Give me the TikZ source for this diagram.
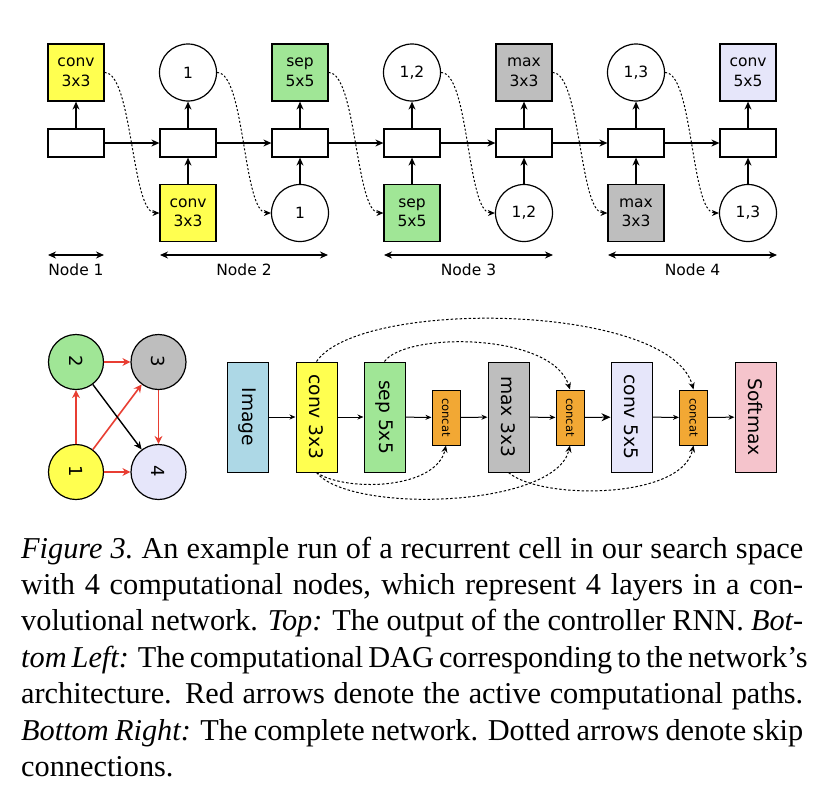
\documentclass[tikz,border=0pt]{standalone}
\usepackage{fontspec}
\usepackage{graphicx}
\setmainfont{Liberation Serif}
\newfontfamily\dejavu{DejaVu Sans}
\usetikzlibrary{arrows.meta}
\definecolor{cyel}{RGB}{255,255,80}
\definecolor{cgreen}{RGB}{160,230,150}
\definecolor{cgray}{RGB}{190,190,190}
\definecolor{clav}{RGB}{230,230,250}
\definecolor{cblue}{RGB}{173,216,230}
\definecolor{corange}{RGB}{242,168,52}
\definecolor{cpink}{RGB}{245,196,204}
\definecolor{cred}{RGB}{232,62,50}
\newcommand{\capline}[1]{\makebox[782pt][s]{#1}\par}
\tikzset{
  lbl/.style={font=\dejavu\fontsize{15.5}{19.5}\selectfont},
  opbox/.style={draw, line width=1.2pt, minimum width=56pt, minimum height=57pt, inner sep=0pt, align=center, lbl},
  rnncell/.style={draw, line width=1.2pt, minimum width=56pt, minimum height=28pt, inner sep=0pt},
  circ/.style={circle, draw, line width=1.2pt, minimum size=57pt, inner sep=0pt, lbl},
  arr/.style={-{Stealth[length=8pt,width=7pt]}, line width=1.2pt},
  dblarr/.style={{Stealth[length=8pt,width=7pt]}-{Stealth[length=8pt,width=7pt]}, line width=1.2pt},
  skipline/.style={line width=1pt, dash pattern=on 2pt off 2pt, -{Stealth[length=7pt,width=6pt]}},
  dag/.style={circle, draw, line width=1.2pt, minimum size=55pt, inner sep=0pt, font=\dejavu\fontsize{18}{20}\selectfont},
  redarr/.style={cred, line width=1.6pt, -{Stealth[length=8pt,width=8pt]}},
  blkarr/.style={black, line width=1.4pt, -{Stealth[length=8pt,width=7pt]}},
  netbox/.style={draw, line width=1pt, minimum width=41pt, minimum height=110pt, inner sep=0pt, font=\dejavu\fontsize{18.7}{20}\selectfont},
  catbox/.style={draw, line width=1pt, fill=corange, minimum width=28pt, minimum height=55pt, inner sep=0pt, font=\dejavu\fontsize{11.5}{12}\selectfont},
  netarr/.style={line width=1pt, -{Stealth[length=6pt,width=5pt]}},
  netskip/.style={line width=1pt, dash pattern=on 2.5pt off 2pt, -{Stealth[length=7pt,width=6pt]}}
}
\begin{document}
\begin{tikzpicture}[x=1pt,y=-1pt]
\fill[white] (0,0) rectangle (830,804);
\useasboundingbox (0,0) rectangle (830,804);

% ---------- top: controller RNN ----------
\foreach \i/\x in {1/76,2/188,3/300,4/412,5/524,6/636,7/748}
  \node[rnncell] (r\i) at (\x,143) {};

\node[opbox, fill=cyel] (t1) at (76,72.5) {conv\\3x3};
\node[circ] (t2) at (188,72.5) {1};
\node[opbox, fill=cgreen] (t3) at (300,72.5) {sep\\5x5};
\node[circ] (t4) at (412,72.5) {1,2};
\node[opbox, fill=cgray] (t5) at (524,72.5) {max\\3x3};
\node[circ] (t6) at (636,72.5) {1,3};
\node[opbox, fill=clav] (t7) at (748,72.5) {conv\\5x5};

\node[opbox, fill=cyel] (b2) at (188,213) {conv\\3x3};
\node[circ] (b3) at (300,213) {1};
\node[opbox, fill=cgreen] (b4) at (412,213) {sep\\5x5};
\node[circ] (b5) at (524,213) {1,2};
\node[opbox, fill=cgray] (b6) at (636,213) {max\\3x3};
\node[circ] (b7) at (748,213) {1,3};

\foreach \i in {1,...,7} \draw[arr] (r\i) -- (t\i);
\foreach \i in {2,...,7} \draw[arr] (b\i) -- (r\i);
\foreach \i/\j in {1/2,2/3,3/4,4/5,5/6,6/7} {
  \draw[arr] (r\i) -- (r\j);
  \draw[skipline] (t\i.east) .. controls +(28,0) and +(-28,0) .. (b\j.west);
}

% node spans
\coordinate (n1a) at (48,255); \coordinate (n1b) at (104,255);
\coordinate (n2a) at (160,255); \coordinate (n2b) at (328,255);
\coordinate (n3a) at (384,255); \coordinate (n3b) at (553,255);
\coordinate (n4a) at (608,255); \coordinate (n4b) at (777,255);
\draw[dblarr] (n1a) -- (n1b);
\draw[dblarr] (n2a) -- (n2b);
\draw[dblarr] (n3a) -- (n3b);
\draw[dblarr] (n4a) -- (n4b);
\node[lbl] (l1) at (76,269.5) {Node 1};
\node[lbl] (l2) at (244,269.5) {Node 2};
\node[lbl] (l3) at (468.5,269.5) {Node 3};
\node[lbl] (l4) at (692.5,269.5) {Node 4};

% ---------- bottom left: DAG ----------
\node[dag, fill=cgreen] (c2) at (76,362) {\rotatebox[origin=c]{-90}{2}};
\node[dag, fill=cgray] (c3) at (158.5,362) {\rotatebox[origin=c]{-90}{3}};
\node[dag, fill=cyel] (c1) at (76,472) {\rotatebox[origin=c]{-90}{1}};
\node[dag, fill=clav] (c4) at (158.5,472) {\rotatebox[origin=c]{-90}{4}};
\draw[redarr] (c1) -- (c2);
\draw[redarr] (c2) -- (c3);
\draw[redarr] (c1) -- (c3);
\draw[redarr] (c1) -- (c4);
\draw[redarr] (c3) -- (c4);
\draw[blkarr] (c2) -- (c4);

% ---------- bottom right: network ----------
\node[netbox, fill=cblue] (img) at (247.5,417) {\rotatebox[origin=c]{-90}{Image}};
\node[netbox, fill=cyel] (nconv) at (316.5,417) {\rotatebox[origin=c]{-90}{conv 3x3}};
\node[netbox, fill=cgreen] (nsep) at (384.5,417) {\rotatebox[origin=c]{-90}{sep 5x5}};
\node[catbox] (cat1) at (446,417.5) {\rotatebox[origin=c]{-90}{concat}};
\node[netbox, fill=cgray] (nmax) at (508.5,417) {\rotatebox[origin=c]{-90}{max 3x3}};
\node[catbox] (cat2) at (570,417.5) {\rotatebox[origin=c]{-90}{concat}};
\node[netbox, fill=clav] (nconv5) at (631.5,417) {\rotatebox[origin=c]{-90}{conv 5x5}};
\node[catbox] (cat3) at (693.5,417.5) {\rotatebox[origin=c]{-90}{concat}};
\node[netbox, fill=cpink] (soft) at (755.5,417) {\rotatebox[origin=c]{-90}{Softmax}};

\draw[netarr] (img) -- (nconv);
\draw[netarr] (nconv) -- (nsep);
\draw[netarr] (nsep) -- (cat1);
\draw[netarr] (cat1) -- (nmax);
\draw[netarr] (nmax) -- (cat2);
\draw[line width=1pt, -{Stealth[length=9pt,width=8pt]}] (cat2) -- (nconv5);
\draw[netarr] (nconv5) -- (cat3);
\draw[netarr] (cat3) -- (soft);

\draw[netskip] (nconv.north) .. controls (360,298) and (670,303) .. (cat3.north);
\draw[netskip] (nsep.north) .. controls (405,332) and (552,332) .. (cat2.north);
\draw[netskip] (nconv.south) .. controls (345,492) and (436,490) .. (cat1.south);
\draw[netskip] (nconv.south) .. controls (350,514) and (556,508) .. (cat2.south);
\draw[netskip] (nmax.south) .. controls (540,500) and (682,500) .. (cat3.south);

% ---------- caption ----------
\node[anchor=base west, inner sep=0pt] (cap) at (21,558) {\parbox[t]{782pt}{\fontsize{30.3}{36.4}\selectfont\parindent=0pt
\capline{\textit{Figure 3.}\ An example run of a recurrent cell in our search space}
\capline{with 4 computational nodes, which represent 4 layers in a con-}
\capline{volutional network. \textit{Top:} The output of the controller RNN. \textit{Bot-}}
\capline{\textit{tom Left:} The computational DAG corresponding to the network’s}
\capline{architecture. Red arrows denote the active computational paths.}
\capline{\textit{Bottom Right:} The complete network. Dotted arrows denote skip}
connections.}};
\end{tikzpicture}
\end{document}
